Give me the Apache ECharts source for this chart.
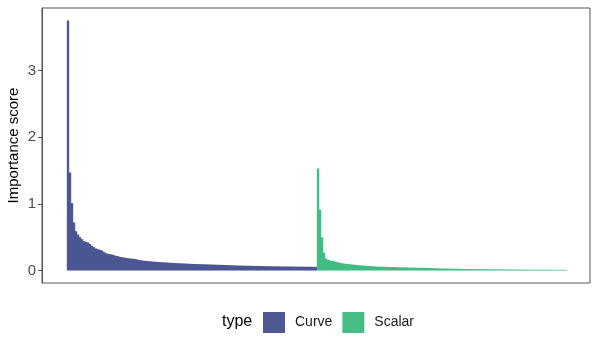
<!DOCTYPE html>
<html>
<head>
<meta charset="utf-8">
<script src="https://cdn.jsdelivr.net/npm/echarts@6/dist/echarts.min.js"></script>
<style>
  html, body { margin: 0; padding: 0; background: #fff; }
  #chart { width: 600px; height: 350px; }
</style>
</head>
<body>
<div id="chart"></div>
<script>
// importance scores, sorted within each type
const curveScores = [
  3.75, 1.47, 1.01, 0.72, 0.59, 0.54, 0.50, 0.47, 0.44, 0.43,
  0.42, 0.40, 0.37, 0.35, 0.33, 0.32, 0.31, 0.30, 0.28, 0.26,
  0.25, 0.245, 0.24, 0.23, 0.22, 0.215, 0.205, 0.20, 0.195, 0.19,
  0.185, 0.18, 0.178, 0.175, 0.17, 0.162, 0.155, 0.15, 0.147, 0.144,
  0.141, 0.138, 0.135, 0.132, 0.13, 0.128, 0.126, 0.124, 0.122, 0.12,
  0.118, 0.116, 0.114, 0.112, 0.11, 0.109, 0.108, 0.106, 0.105, 0.104,
  0.102, 0.1, 0.099, 0.098, 0.097, 0.096, 0.095, 0.094, 0.093, 0.092,
  0.091, 0.09, 0.089, 0.088, 0.087, 0.086, 0.085, 0.084, 0.083, 0.082,
  0.081, 0.08, 0.078, 0.077, 0.076, 0.075, 0.074, 0.073, 0.072, 0.072,
  0.071, 0.07, 0.07, 0.069, 0.068, 0.068, 0.067, 0.066, 0.066, 0.065,
  0.064, 0.064, 0.063, 0.063, 0.062, 0.062, 0.061, 0.061, 0.06, 0.06,
  0.06, 0.059, 0.059, 0.058, 0.058, 0.058, 0.057, 0.057, 0.057, 0.056,
  0.056, 0.056, 0.055, 0.055, 0.055
]
const scalarScores = [
  1.53, 0.91, 0.50, 0.27, 0.18, 0.16, 0.152, 0.145, 0.14, 0.13,
  0.122, 0.116, 0.11, 0.105, 0.1, 0.097, 0.094, 0.09, 0.087, 0.084,
  0.081, 0.078, 0.075, 0.072, 0.07, 0.068, 0.066, 0.064, 0.062, 0.06,
  0.059, 0.058, 0.057, 0.056, 0.055, 0.054, 0.053, 0.052, 0.051, 0.05,
  0.049, 0.048, 0.047, 0.046, 0.046, 0.045, 0.044, 0.043, 0.043, 0.042,
  0.041, 0.04, 0.04, 0.039, 0.038, 0.037, 0.036, 0.035, 0.034, 0.033,
  0.032, 0.031, 0.03, 0.03, 0.029, 0.028, 0.028, 0.027, 0.026, 0.026,
  0.025, 0.024, 0.024, 0.023, 0.023, 0.022, 0.022, 0.021, 0.021, 0.02,
  0.02, 0.02, 0.019, 0.019, 0.019, 0.018, 0.018, 0.018, 0.017, 0.017,
  0.017, 0.016, 0.016, 0.016, 0.015, 0.015, 0.015, 0.015, 0.014, 0.014,
  0.014, 0.014, 0.013, 0.013, 0.013, 0.013, 0.012, 0.012, 0.012, 0.012,
  0.012, 0.011, 0.011, 0.011, 0.011, 0.011, 0.011, 0.01, 0.01, 0.01,
  0.01, 0.01, 0.01, 0.01, 0.01
]
const typeNames = ['Curve', 'Scalar']
const typeColors = ['#3f4a8a', '#35b779']
const yTicks = [0, 1, 2, 3]

// rank position on the x axis
const curveData = curveScores.map((v, i) => [i + 1, v])
const scalarData = scalarScores.map((v, i) => [curveScores.length + i + 1, v])
const nBars = curveScores.length + scalarScores.length

const chart = echarts.init(document.getElementById('chart'))
chart.setOption({
  animation: false,
  color: typeColors,
  grid: {
    left: 42,
    right: 10,
    top: 8,
    bottom: 67,
    containLabel: false,
    outerBoundsMode: 'none',
    show: true,
    borderColor: '#555',
    borderWidth: 1
  },
  xAxis: {
    type: 'value',
    min: 0.5 - 12.5,
    max: nBars + 0.5 + 11.5,
    axisLine: { show: false },
    axisTick: { show: false },
    axisLabel: { show: false },
    splitLine: { show: false }
  },
  yAxis: {
    type: 'value',
    min: -0.1875,
    max: 3.9375,
    name: 'Importance score',
    nameLocation: 'middle',
    nameGap: 21,
    nameMoveOverlap: false,
    nameTextStyle: { fontSize: 15, color: '#000', fontFamily: 'Liberation Sans' },
    axisLine: { show: true, onZero: false, lineStyle: { color: '#555' } },
    axisTick: { show: true, length: 4, lineStyle: { color: '#555' }, customValues: yTicks },
    axisLabel: { fontSize: 15, color: '#4d4d4d', margin: 6, fontFamily: 'Liberation Sans', customValues: yTicks },
    splitLine: { show: false }
  },
  legend: {
    data: typeNames,
    left: 263,
    top: 312,
    padding: 0,
    icon: 'rect',
    itemWidth: 22,
    itemHeight: 21,
    itemGap: 10,
    textStyle: { fontSize: 14, color: '#1a1a1a', padding: [0, 0, 0, 5], fontFamily: 'Liberation Sans' }
  },
  graphic: [{
    type: 'text',
    left: 222,
    top: 314,
    style: { text: 'type', fontSize: 16, fill: '#000', fontFamily: 'Liberation Sans' }
  }],
  series: [
    {
      name: 'Curve',
      type: 'bar',
      data: curveData,
      barWidth: 2.4,
      itemStyle: { color: typeColors[0], opacity: 0.92 }
    },
    {
      name: 'Scalar',
      type: 'bar',
      data: scalarData,
      barWidth: 2.4,
      barGap: '-100%',
      itemStyle: { color: typeColors[1], opacity: 0.92 }
    }
  ]
})
</script>
</body>
</html>
